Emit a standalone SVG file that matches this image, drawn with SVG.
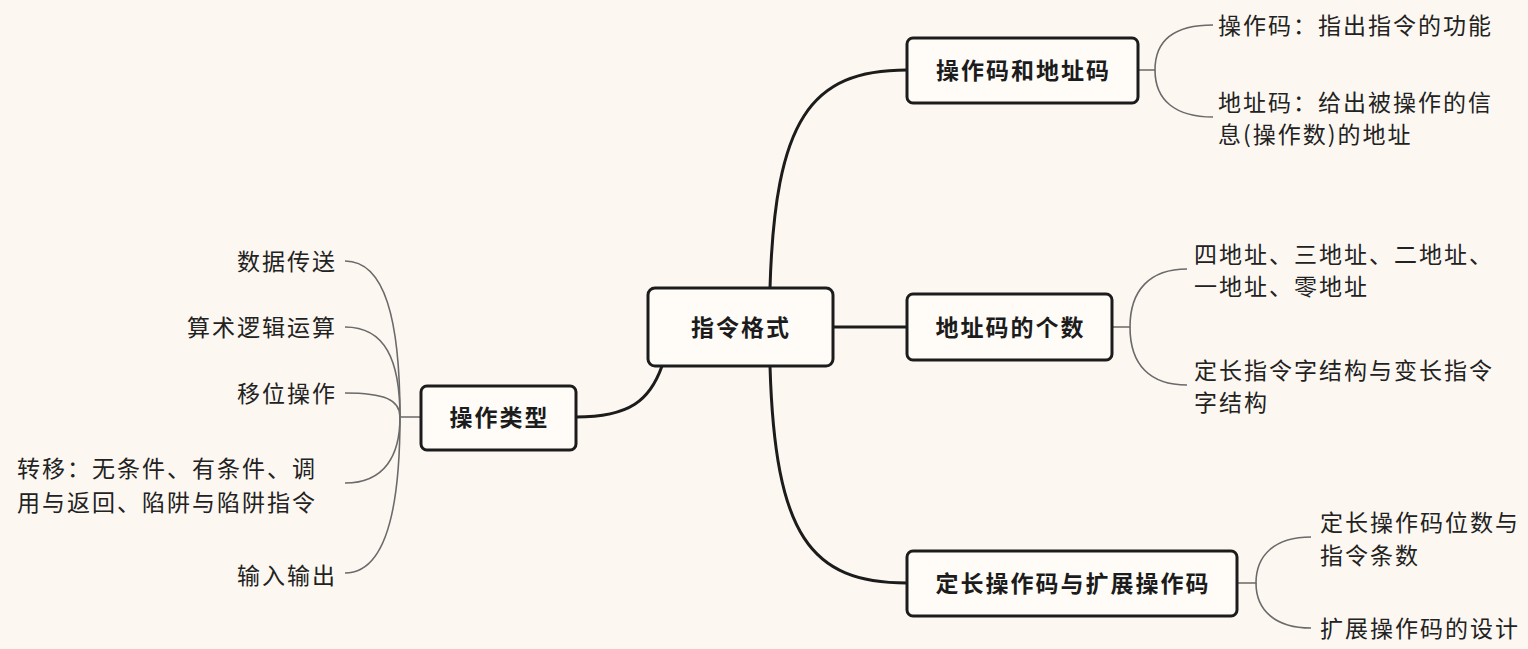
<svg xmlns="http://www.w3.org/2000/svg" width="1528" height="649" viewBox="0 0 1528 649">
<style>
.bg{fill:#fcf7f1}
.node rect{fill:#fffcf8;stroke:#1c1c1c;stroke-width:3}
.node text{font-family:"Noto Sans CJK SC","Noto Sans",sans-serif;font-size:23px;font-weight:700;letter-spacing:2px;fill:#1c1c1c;text-anchor:middle}
.leaf text{font-family:"Noto Sans CJK SC","Noto Sans",sans-serif;font-size:23px;letter-spacing:2px;fill:#222}
.main{fill:none;stroke:#1c1c1c;stroke-width:3}
.thin{fill:none;stroke:#6a6a6a;stroke-width:1.6}
</style>
<rect class="bg" x="0" y="0" width="1528" height="649"/>
<g id="connectors">
<path class="main" d="M770 288 C775 120 810 70 907 70"/>
<path class="main" d="M833 327 H907"/>
<path class="main" d="M770 366 C775 535 810 583 907 583"/>
<path class="main" d="M662 366 C650 400 630 417 576 417"/>
<path class="thin" d="M1138 70 H1155 C1155 40 1175 25 1213 25"/>
<path class="thin" d="M1155 70 C1155 100 1175 117 1213 117"/>
<path class="thin" d="M1112 327 H1130 C1130 290 1150 269 1187 269"/>
<path class="thin" d="M1130 327 C1130 365 1150 385 1187 385"/>
<path class="thin" d="M1237 583 H1256 C1256 555 1275 537 1311 537"/>
<path class="thin" d="M1256 583 C1256 610 1275 628 1311 628"/>
<path class="thin" d="M420 417 H400 C400 320 385 261 345 261"/>
<path class="thin" d="M400 417 C400 360 385 327 345 327"/>
<path class="thin" d="M400 417 C400 400 385 393 345 393"/>
<path class="thin" d="M400 417 C400 455 385 483 345 483"/>
<path class="thin" d="M400 417 C400 510 385 573 345 573"/>
</g>
<g id="n-root" class="node"><rect x="648" y="288" width="185" height="78" rx="7"/><text x="741" y="335.5">指令格式</text></g>
<g id="n-opaddr" class="node"><rect x="907" y="38" width="231" height="65" rx="6"/><text x="1023.5" y="78.5">操作码和地址码</text></g>
<g id="n-count" class="node"><rect x="907" y="294" width="205" height="66" rx="6"/><text x="1010.5" y="335.5">地址码的个数</text></g>
<g id="n-fixed" class="node"><rect x="907" y="551" width="330" height="65" rx="6"/><text x="1073" y="591.5">定长操作码与扩展操作码</text></g>
<g id="n-optype" class="node"><rect x="421" y="386" width="155" height="64" rx="6"/><text x="499.5" y="425.5">操作类型</text></g>
<g id="l-op" class="leaf"><text x="1218" y="34">操作码：指出指令的功能</text></g>
<g id="l-addr" class="leaf"><text x="1218" y="110.5">地址码：给出被操作的信</text><text x="1218" y="143">息(操作数)的地址</text></g>
<g id="l-num" class="leaf"><text x="1194" y="263">四地址、三地址、二地址、</text><text x="1194" y="295">一地址、零地址</text></g>
<g id="l-len" class="leaf"><text x="1194" y="379">定长指令字结构与变长指令</text><text x="1194" y="411">字结构</text></g>
<g id="l-fix" class="leaf"><text x="1320" y="531">定长操作码位数与</text><text x="1320" y="564">指令条数</text></g>
<g id="l-ext" class="leaf"><text x="1320" y="636.5">扩展操作码的设计</text></g>
<g id="l-data" class="leaf"><text x="237" y="269.5">数据传送</text></g>
<g id="l-alu" class="leaf"><text x="187" y="335.5">算术逻辑运算</text></g>
<g id="l-shift" class="leaf"><text x="237" y="401.5">移位操作</text></g>
<g id="l-jump" class="leaf"><text x="17" y="476.5">转移：无条件、有条件、调</text><text x="17" y="510.5">用与返回、陷阱与陷阱指令</text></g>
<g id="l-io" class="leaf"><text x="237" y="583.5">输入输出</text></g>
</svg>
